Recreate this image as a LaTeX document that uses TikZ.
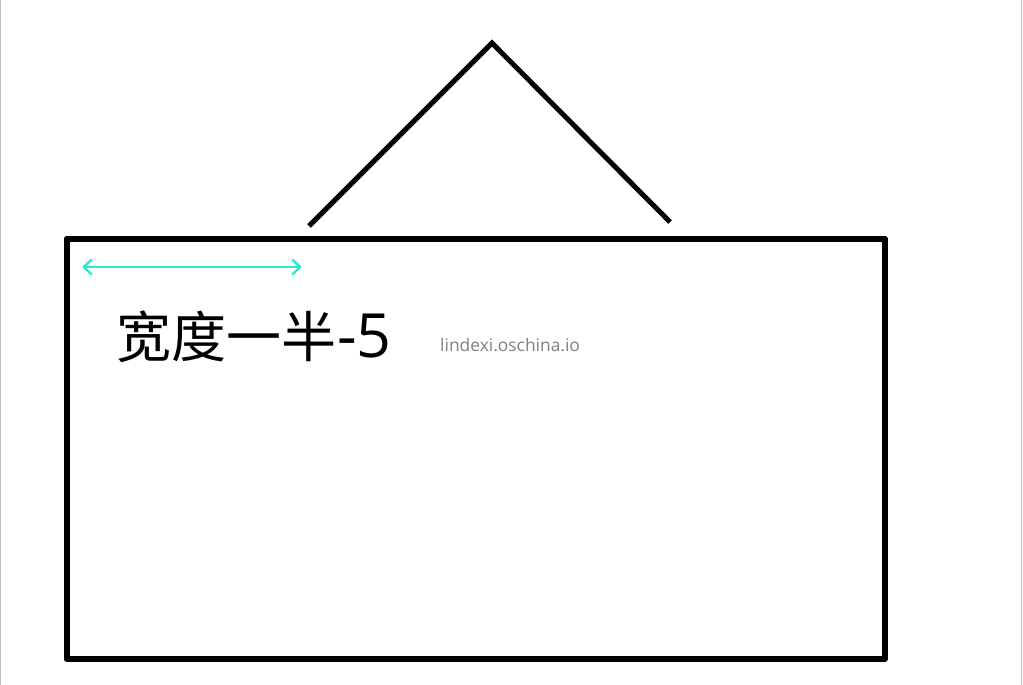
\documentclass[tikz,border=0pt]{standalone}
\usepackage{fontspec}
\setmainfont{Open Sans}
\newfontfamily\cjk{Noto Sans CJK SC}
\usetikzlibrary{arrows.meta}
\definecolor{widthcyan}{RGB}{45,232,205}
\definecolor{edgegray}{RGB}{190,190,190}
\begin{document}
\begin{tikzpicture}[x=1pt,y=-1pt,
    frame/.style={line width=6pt,line join=round},
    roof/.style={line width=5pt},
    halfwidth/.style={widthcyan,line width=2.4pt,
      {Straight Barb[length=8pt,width=15pt]}-{Straight Barb[length=8pt,width=15pt]}}]
\useasboundingbox (0,0) rectangle (1023,685);
\draw[edgegray,line width=1.2pt] (0.6,0) -- (0.6,685);
\draw[edgegray,line width=1.2pt] (1021.5,0) -- (1021.5,685);
% roof
\coordinate (roofleft) at (309,226);
\coordinate (apex) at (492,43);
\coordinate (roofright) at (670,222);
\draw[roof] (roofleft) -- (apex) -- (roofright);
% box
\draw[frame] (66.5,238.5) rectangle (885,659);
% half width
\coordinate (hwleft) at (82,267);
\coordinate (hwright) at (302,267);
\draw[halfwidth] (hwleft) -- (hwright);
\node[anchor=base west,inner sep=0pt,font=\fontsize{55}{60}\selectfont] (label) at (116,357) {{\cjk 宽度一半}\kern1pt{\fontsize{61}{64}\selectfont -5}};
\node[anchor=base west,inner sep=0pt,text=gray,font=\fontsize{17.4}{20}\selectfont] (mark) at (440,351) {lindexi.oschina.io};
\end{tikzpicture}
\end{document}
